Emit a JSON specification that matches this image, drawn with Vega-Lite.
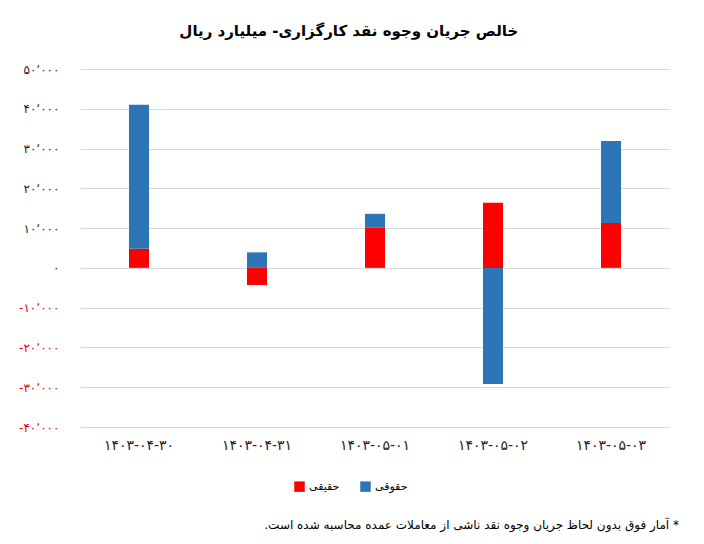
{
  "$schema": "https://vega.github.io/schema/vega-lite/v6.json",
  "background": "white",
  "padding": {"left": 18, "top": 24, "right": 20, "bottom": 8},
  "title": {
    "text": "خالص جریان وجوه نقد کارگزاری- میلیارد ریال",
    "fontSize": 15,
    "fontWeight": "bold",
    "color": "#000000",
    "anchor": "middle",
    "frame": "bounds",
    "offset": 24
  },
  "config": {
    "font": "DejaVu Sans",
    "view": {"stroke": null},
    "locale": {
      "number": {
        "decimal": "٫",
        "thousands": "٬",
        "grouping": [3],
        "currency": ["", ""],
        "numerals": ["۰", "۱", "۲", "۳", "۴", "۵", "۶", "۷", "۸", "۹"],
        "minus": "-"
      }
    },
    "axis": {"domain": false, "ticks": false, "gridColor": "#d9d9d9", "labelColor": "#222222"}
  },
  "vconcat": [
    {
      "width": 590,
      "height": 358,
      "title": {
        "text": "‏* آمار فوق بدون لحاظ جریان وجوه نقد ناشی از معاملات عمده محاسبه شده است.‏",
        "orient": "bottom",
        "anchor": "end",
        "fontSize": 12,
        "fontWeight": "normal",
        "color": "#000000",
        "dx": 9,
        "offset": 68
      },
      "data": {
        "values": [
          {"date": "۱۴۰۳-۰۴-۳۰", "type": "حقیقی", "value": 4800},
          {"date": "۱۴۰۳-۰۴-۳۰", "type": "حقوقی", "value": 36200},
          {"date": "۱۴۰۳-۰۴-۳۱", "type": "حقیقی", "value": -4300},
          {"date": "۱۴۰۳-۰۴-۳۱", "type": "حقوقی", "value": 3900},
          {"date": "۱۴۰۳-۰۵-۰۱", "type": "حقیقی", "value": 10200},
          {"date": "۱۴۰۳-۰۵-۰۱", "type": "حقوقی", "value": 3400},
          {"date": "۱۴۰۳-۰۵-۰۲", "type": "حقیقی", "value": 16400},
          {"date": "۱۴۰۳-۰۵-۰۲", "type": "حقوقی", "value": -29200},
          {"date": "۱۴۰۳-۰۵-۰۳", "type": "حقیقی", "value": 11300},
          {"date": "۱۴۰۳-۰۵-۰۳", "type": "حقوقی", "value": 20600}
        ]
      },
      "mark": {"type": "bar", "width": 20},
      "encoding": {
        "x": {
          "field": "date",
          "type": "nominal",
          "sort": null,
          "axis": {"title": null, "labelAngle": 0, "labelFontSize": 14, "labelPadding": 11}
        },
        "y": {
          "field": "value",
          "type": "quantitative",
          "scale": {"domain": [-40000, 50000], "nice": false},
          "axis": {
            "title": null,
            "format": ",.0f",
            "values": [-40000, -30000, -20000, -10000, 0, 10000, 20000, 30000, 40000, 50000],
            "labelFontSize": 12,
            "labelPadding": 21,
            "labelColor": {"condition": {"test": "datum.value < 0", "value": "#e00000"}, "value": "#222222"}
          }
        },
        "color": {
          "field": "type",
          "type": "nominal",
          "scale": {"domain": ["حقیقی", "حقوقی"], "range": ["#ff0000", "#2e75b6"]},
          "legend": {
            "title": null,
            "orient": "none",
            "legendX": 214,
            "legendY": 412,
            "direction": "horizontal",
            "symbolType": "square",
            "symbolSize": 110,
            "symbolStrokeWidth": 0,
            "labelFontSize": 11,
            "labelColor": "#000000",
            "columnPadding": 20
          }
        },
        "order": {"field": "type", "sort": "descending"}
      }
    }
  ]
}
